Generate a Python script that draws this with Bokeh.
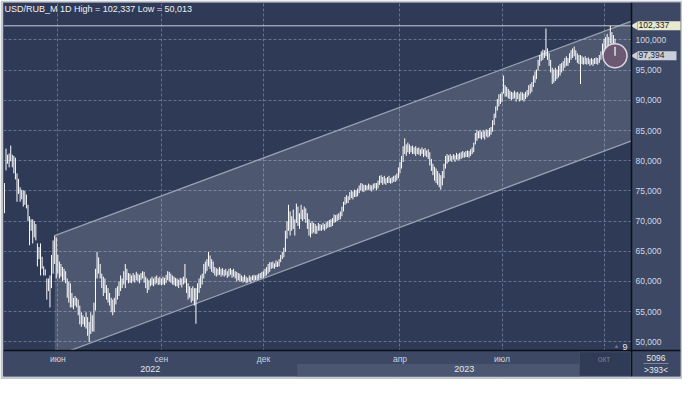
import pandas as pd
from bokeh.plotting import figure
from bokeh.models import (FixedTicker, CustomJSTickFormatter, Label, Span,
                          BoxAnnotation, Range1d)
from bokeh.core.properties import value
from bokeh.embed import file_html
from bokeh.resources import INLINE

# ---------------- data ----------------
symbol = "USD/RUB_M"
period = "1D"
start_date = "2022-04-14"          # first visible trading day

highs = [
    76.3, 82.0, 81.0, 81.2, 82.5, 81.0, 80.8, 80.5, 77.9, 77.0,
    75.6, 75.2, 75.1, 75.0, 74.4, 72.7, 70.8, 70.3, 70.3, 70.0,
    69.5, 66.3, 65.7, 66.3, 64.1, 62.5, 62.0, 60.5, 60.5, 61.0,
    64.4, 66.8, 67.6, 67.3, 64.4, 63.3, 62.9, 62.4, 62.1, 61.7,
    60.5, 60.0, 59.7, 58.1, 57.3, 57.6, 57.3, 57.0, 56.0, 54.9,
    54.4, 54.1, 54.9, 54.1, 53.3, 54.9, 54.4, 56.5, 62.1, 64.9,
    64.0, 62.9, 61.3, 60.8, 60.5, 59.4, 58.9, 58.1, 57.3, 57.0,
    57.3, 58.9, 59.2, 60.0, 61.0, 60.5, 61.7, 62.9, 62.1, 61.4,
    61.3, 61.0, 61.4, 61.1, 61.6, 61.3, 61.1, 61.4, 61.7, 61.6,
    60.8, 60.5, 60.2, 60.5, 60.8, 60.5, 60.8, 61.0, 60.6, 60.8,
    60.5, 60.8, 60.6, 61.1, 61.7, 61.6, 61.3, 61.0, 60.8, 60.6,
    60.5, 60.3, 60.6, 60.5, 60.8, 62.9, 60.5, 59.7, 59.2, 58.9,
    59.2, 58.9, 58.9, 59.7, 60.5, 61.0, 61.3, 62.9, 63.3, 63.7,
    64.9, 64.3, 63.7, 63.3, 62.4, 62.2, 62.1, 62.4, 62.1, 62.2,
    61.9, 62.1, 61.7, 62.1, 62.2, 61.9, 62.1, 61.7, 61.6, 61.4,
    61.3, 61.0, 60.8, 61.1, 60.8, 60.6, 61.0, 60.8, 61.0, 61.1,
    61.0, 61.1, 61.3, 61.4, 61.6, 61.7, 62.1, 62.4, 62.9, 63.2,
    63.2, 63.3, 63.0, 63.5, 63.3, 63.7, 64.4, 64.9, 65.6, 68.4,
    70.0, 72.7, 71.6, 70.8, 71.9, 70.3, 72.9, 72.4, 71.3, 72.7,
    71.9, 72.4, 72.1, 71.3, 70.3, 69.7, 70.0, 69.7, 69.5, 69.2,
    69.7, 69.5, 69.4, 69.7, 69.5, 69.8, 70.0, 70.2, 70.3, 70.5,
    71.1, 71.0, 71.1, 71.3, 71.6, 72.4, 73.2, 74.0, 74.3, 74.1,
    74.8, 75.1, 74.9, 75.2, 75.1, 75.4, 75.9, 76.3, 76.2, 76.0,
    76.0, 75.9, 76.2, 76.0, 75.9, 76.2, 76.3, 76.3, 76.7, 77.5,
    77.6, 77.3, 77.5, 77.1, 77.3, 77.5, 77.1, 77.3, 77.5, 77.6,
    77.9, 78.9, 79.8, 80.8, 82.4, 83.7, 82.7, 83.0, 82.7, 82.4,
    82.5, 82.2, 82.4, 82.1, 82.2, 81.9, 82.2, 81.9, 82.1, 81.7,
    81.9, 81.4, 80.3, 79.5, 79.0, 78.7, 78.3, 77.9, 77.6, 78.3,
    79.5, 80.8, 81.1, 80.9, 81.1, 80.8, 81.1, 80.9, 81.3, 81.1,
    81.3, 81.4, 81.6, 81.4, 81.6, 81.7, 81.6, 81.9, 82.2, 83.0,
    84.6, 85.1, 84.9, 85.1, 84.8, 85.1, 84.9, 85.2, 85.1, 85.4,
    85.6, 86.7, 87.8, 89.0, 90.2, 91.0, 91.1, 91.4, 94.1, 92.5,
    92.2, 91.9, 91.6, 91.4, 91.3, 91.6, 91.3, 91.4, 91.1, 91.4,
    91.3, 91.1, 91.4, 91.7, 92.5, 92.7, 93.0, 94.1, 94.8, 95.1,
    96.7, 97.5, 98.1, 98.4, 98.3, 101.9, 98.6, 97.8, 96.7, 95.4,
    95.1, 95.4, 95.1, 95.7, 96.0, 96.2, 96.5, 97.0, 97.3, 97.0,
    97.8, 98.3, 98.6, 98.9, 98.3, 97.8, 97.5, 97.5, 97.3, 97.1,
    97.3, 97.0, 97.1, 96.8, 97.0, 96.8, 97.0, 97.1, 97.0, 97.5,
    98.1, 99.4, 100.2, 100.5, 101.0, 100.5, 102.337, 101.3, 100.8, 100.2,
]

lows = [
    71.3, 78.4, 79.5, 78.9, 79.9, 78.9, 77.9, 76.9, 73.2, 74.5,
    73.2, 73.6, 72.4, 72.7, 72.1, 70.0, 66.0, 68.4, 66.3, 67.3,
    66.8, 62.5, 63.7, 61.0, 62.1, 61.0, 61.0, 57.0, 58.4, 55.7,
    58.9, 61.3, 62.9, 60.5, 61.3, 60.5, 60.8, 60.0, 60.2, 59.7,
    57.3, 56.5, 55.7, 55.7, 55.4, 56.0, 55.7, 54.4, 52.9, 52.5,
    52.9, 52.5, 52.2, 51.0, 50.013, 51.3, 51.7, 51.7, 55.2, 60.5,
    61.3, 60.5, 58.9, 57.6, 58.1, 57.0, 56.5, 56.0, 54.9, 54.4,
    54.9, 56.2, 57.0, 57.6, 58.4, 58.9, 59.5, 58.9, 60.2, 59.7,
    59.8, 59.7, 60.0, 59.8, 60.2, 60.0, 59.7, 60.2, 60.5, 59.8,
    58.9, 58.1, 58.6, 59.2, 59.4, 59.2, 59.5, 59.7, 59.4, 59.5,
    59.4, 59.5, 59.4, 59.7, 60.2, 60.0, 59.8, 59.5, 59.4, 59.2,
    59.2, 58.9, 59.4, 59.0, 59.5, 59.7, 58.1, 57.0, 57.3, 56.5,
    56.8, 56.0, 53.0, 57.0, 58.1, 58.9, 59.5, 60.5, 61.3, 61.7,
    62.5, 62.1, 61.6, 61.4, 61.0, 60.8, 61.0, 61.1, 60.8, 61.0,
    60.8, 61.0, 60.6, 60.8, 61.1, 60.6, 60.8, 60.5, 60.0, 60.2,
    60.0, 60.0, 59.8, 60.0, 59.7, 59.8, 60.0, 59.8, 60.2, 60.0,
    60.2, 60.2, 60.3, 60.5, 60.5, 60.6, 60.8, 61.0, 61.3, 61.6,
    62.1, 62.2, 62.1, 62.4, 62.4, 62.5, 63.2, 63.7, 64.0, 64.9,
    67.1, 68.4, 67.6, 68.4, 68.7, 67.6, 69.7, 69.2, 68.7, 70.3,
    70.0, 70.3, 69.7, 68.7, 67.6, 67.3, 67.9, 68.1, 67.9, 67.9,
    68.4, 68.4, 68.4, 68.6, 68.4, 68.7, 68.9, 69.0, 69.0, 69.2,
    69.7, 69.8, 70.0, 70.2, 70.3, 70.8, 71.6, 72.7, 72.9, 73.0,
    73.5, 73.8, 73.6, 74.0, 74.0, 74.1, 74.6, 75.1, 74.9, 74.8,
    75.1, 75.1, 75.2, 75.1, 74.9, 75.2, 75.4, 75.1, 75.4, 76.0,
    76.3, 76.0, 76.2, 76.0, 76.3, 76.3, 76.2, 76.3, 76.5, 76.5,
    76.7, 77.1, 77.9, 78.7, 79.8, 81.1, 80.8, 81.4, 81.1, 81.4,
    81.1, 81.1, 80.8, 81.1, 81.0, 80.8, 81.1, 80.6, 80.8, 80.6,
    80.3, 79.2, 78.3, 77.6, 76.7, 76.3, 76.0, 75.6, 75.2, 75.9,
    77.1, 78.7, 79.5, 79.8, 80.0, 79.8, 80.2, 79.8, 80.2, 80.0,
    80.2, 80.3, 80.5, 80.5, 80.6, 80.6, 80.5, 80.8, 81.1, 81.4,
    82.7, 83.3, 83.7, 83.7, 83.5, 83.8, 83.5, 84.0, 83.8, 84.0,
    84.3, 84.8, 85.9, 87.1, 88.3, 89.0, 89.4, 89.7, 91.1, 90.6,
    90.6, 90.3, 90.2, 90.0, 90.2, 90.3, 89.8, 90.2, 89.8, 90.0,
    90.0, 89.8, 90.2, 90.5, 90.8, 91.1, 91.4, 92.2, 92.9, 93.5,
    94.9, 95.7, 96.5, 96.7, 97.0, 97.3, 96.7, 95.7, 94.6, 92.7,
    92.9, 93.2, 93.5, 93.8, 94.1, 94.6, 94.9, 95.4, 95.7, 95.7,
    96.2, 96.7, 97.0, 97.3, 96.7, 96.2, 96.0, 92.7, 96.0, 95.9,
    96.0, 95.9, 96.0, 95.7, 95.9, 95.7, 96.0, 96.0, 95.9, 96.2,
    96.7, 97.5, 98.1, 98.6, 99.0, 98.6, 99.4, 98.9, 98.6, 97.4,
]

last_close = 97.394

y_ticks = [50, 55, 60, 65, 70, 75, 80, 85, 90, 95, 100]
month_ticks = ["2022-06", "2022-09", "2022-12", "2023-04", "2023-07", "2023-10"]
month_labels = ["июн", "сен", "дек", "апр", "июл", "окт"]
years = ["2022", "2023"]

channel_start = "2022-05-30"
channel_upper = [67.6, 103.1]   # at channel start, at right edge of chart
channel_lower = [47.6, 83.3]

bars_total = "5096"
bars_visible = ">393<"
marker_count = "9"

# ---------------- layout constants (pixels) ----------------
W, H = 682, 379
B_L, B_T, B_R, B_B = 3, 2, 2, 3        # light outer frame
PLOT_W, PLOT_H = 628, 348              # price area
PANEL_R = W - B_L - B_R - PLOT_W       # right scale panel
PANEL_B = H - B_T - B_B - PLOT_H       # bottom date panel

# ---------------- derived ----------------
dates = pd.bdate_range(start_date, periods=len(highs))
idx = list(range(len(dates)))


def idx_of(day):
    return int((dates < pd.Timestamp(day)).sum())


def fmt(v):
    return f"{v:.3f}".replace(".", ",")


x_start, x_plot_end = -0.6, len(dates) + 9.5
y_plot_start, y_end = 48.57, 106.2
ipp = (x_plot_end - x_start) / PLOT_W       # index units per pixel
vpp = (y_end - y_plot_start) / PLOT_H       # price units per pixel
x_end = x_plot_end + PANEL_R * ipp
y_start = y_plot_start - PANEL_B * vpp

month_idx = [idx_of(m + "-01") for m in month_ticks]
year_split = idx_of(years[1] + "-01-01")
year_pos = [(x_start + year_split - 0.5) / 2, (year_split - 0.5 + x_plot_end) / 2]

hi = max(highs)
lo = min(lows)

BG = "#2e3a56"
PANEL = "#3c4864"
EDGE = "#0b101a"
TXT = "#d3d9e4"
FONT = "Liberation Sans"

p = figure(width=W, height=H, x_range=Range1d(x_start, x_end),
           y_range=Range1d(y_start, y_end), y_axis_location="right",
           toolbar_location=None, output_backend="svg",
           min_border_left=B_L, min_border_right=B_R, min_border_top=B_T,
           min_border_bottom=B_B, background_fill_color=BG,
           border_fill_color="#c3c8d0", outline_line_color=None)

# grid
p.xgrid.ticker = FixedTicker(ticks=month_idx)
p.ygrid.ticker = FixedTicker(ticks=y_ticks)
for g in (p.xgrid, p.ygrid):
    g.grid_line_color = "#7282a0"
    g.grid_line_dash = "3 2"
    g.grid_line_alpha = 0.8

# right price axis (labels drawn on the scale panel)
ya = p.yaxis[0]
ya.ticker = FixedTicker(ticks=y_ticks)
ya.formatter = CustomJSTickFormatter(code="return tick.toFixed(3).replace('.', ',');")
ya.major_tick_line_color = None
ya.minor_tick_line_color = None
ya.axis_line_color = None
ya.major_label_text_color = TXT
ya.major_label_text_font = FONT
ya.major_label_text_font_size = "8.5px"
ya.major_label_standoff = -(PANEL_R + 2)

# date axis: month row
xa = p.xaxis[0]
xa.ticker = FixedTicker(ticks=month_idx)
xa.major_label_overrides = {i: lab for i, lab in zip(month_idx, month_labels)}
xa.major_tick_line_color = None
xa.minor_tick_line_color = None
xa.axis_line_color = None
xa.major_label_text_color = "#cdd4e1"
xa.major_label_text_font = FONT
xa.major_label_text_font_size = "8.5px"
xa.major_label_standoff = -(PANEL_B + 3)

# trend channel
cs = idx_of(channel_start)
p.patch([cs, x_plot_end, x_plot_end, cs],
        [channel_upper[0], channel_upper[1], channel_lower[1], channel_lower[0]],
        fill_color="white", fill_alpha=0.15, line_color=None)
p.line([cs, x_plot_end], channel_upper, line_color="#98a0ae", line_width=1.3)
p.line([cs, x_plot_end], channel_lower, line_color="#98a0ae", line_width=1.3)

# high line
p.segment(x0=[x_start], y0=[hi], x1=[x_plot_end], y1=[hi],
          line_color="#c9cdd5", line_width=1)

# price bars
p.segment(x0=idx, y0=lows, x1=idx, y1=highs, line_color="white", line_width=1)

# last-bar clock marker
p.scatter(x=[idx[-1]], y=[last_close], size=24, fill_color="#6b5872",
          line_color="#dcd8e2", line_width=1.5)
p.ray(x=[idx[-1]], y=[last_close], length=9, length_units="screen", angle=90,
      angle_units="deg", line_color="white", line_width=1.2)

# scale panels
p.quad(left=[x_plot_end, x_start], right=[x_end, x_plot_end],
       bottom=[y_start, y_start], top=[y_end, y_plot_start],
       fill_color=PANEL, line_color=None)
# lighter year band for 2023
scroll_left = x_plot_end - 52 * ipp
p.quad(left=[year_split - 0.5], right=[scroll_left],
       bottom=[y_start], top=[y_plot_start - 13.5 * vpp],
       fill_color="#4b5771", line_color=None)

# year row
p.text(x=year_pos, y=[y_plot_start - 18.5 * vpp] * len(years), text=years,
       text_align="center", text_baseline="middle", text_color="#e4e8ef",
       text_font=value(FONT), text_font_size="9px")

# frame edges
p.add_layout(Span(location=x_plot_end, dimension="height", line_color=EDGE, line_width=1.5))
p.add_layout(Span(location=y_plot_start, dimension="width", line_color=EDGE, line_width=1.5))
p.add_layout(Span(location=x_start, dimension="height", line_color="#1c2538", line_width=1))

# scroll box over "окт"
p.add_layout(BoxAnnotation(left=scroll_left, right=x_plot_end - 1 * ipp,
                           top=y_plot_start - 1.5 * vpp, bottom=y_start + 0.5 * vpp,
                           fill_color="#27324a", fill_alpha=0.55,
                           line_color="#56627a", line_width=1))

# title
p.add_layout(Label(x=x_start, y=y_end, x_offset=1, y_offset=-1,
                   text=f"{symbol} {period} High = {fmt(hi)} Low = {fmt(lo)}",
                   text_baseline="top", text_color="#eef1f5",
                   text_font=FONT, text_font_size="9px"))

# price tags on the scale
for val, col in ((hi, "#e7eacf"), (last_close, "#c9d0dc")):
    p.scatter(x=[x_plot_end + 3.5 * ipp], y=[val], marker="triangle", angle=90,
              angle_units="deg", size=8, fill_color=col, line_color=None)
    p.add_layout(Label(x=x_plot_end, y=val, x_offset=6, text=fmt(val),
                       text_baseline="middle", text_color="#151a24",
                       text_font=FONT, text_font_size="8.5px",
                       background_fill_color=col, padding=(1, 12, 1, 2)))

# bottom-right corner counters
p.add_layout(Label(x=x_end, y=y_start, x_offset=-(PANEL_R / 2), y_offset=19,
                   text=bars_total, text_align="center", text_baseline="middle",
                   text_color="#e4e8ef", text_font=FONT, text_font_size="8.5px"))
p.add_layout(Label(x=x_end, y=y_start, x_offset=-(PANEL_R / 2), y_offset=7,
                   text=bars_visible, text_align="center", text_baseline="middle",
                   text_color="#e4e8ef", text_font=FONT, text_font_size="8.5px"))
p.segment(x0=[x_end - (PANEL_R - 12) * ipp], y0=[y_start + 13 * vpp],
          x1=[x_end - 12 * ipp], y1=[y_start + 13 * vpp],
          line_color="#7d889c", line_width=1)

# small counter in the corner of the price area
p.add_layout(Label(x=x_plot_end, y=y_plot_start, x_offset=-4, y_offset=1,
                   text=marker_count, text_align="right", text_baseline="bottom",
                   text_color="#e4e8ef", text_font=FONT, text_font_size="9px"))
p.add_layout(Label(x=x_plot_end, y=y_plot_start, x_offset=-12, y_offset=2, text="▲",
                   text_align="right", text_baseline="bottom", text_color="#6a7690",
                   text_font_size="6px"))

open("out.html", "w").write(file_html(p, INLINE))
